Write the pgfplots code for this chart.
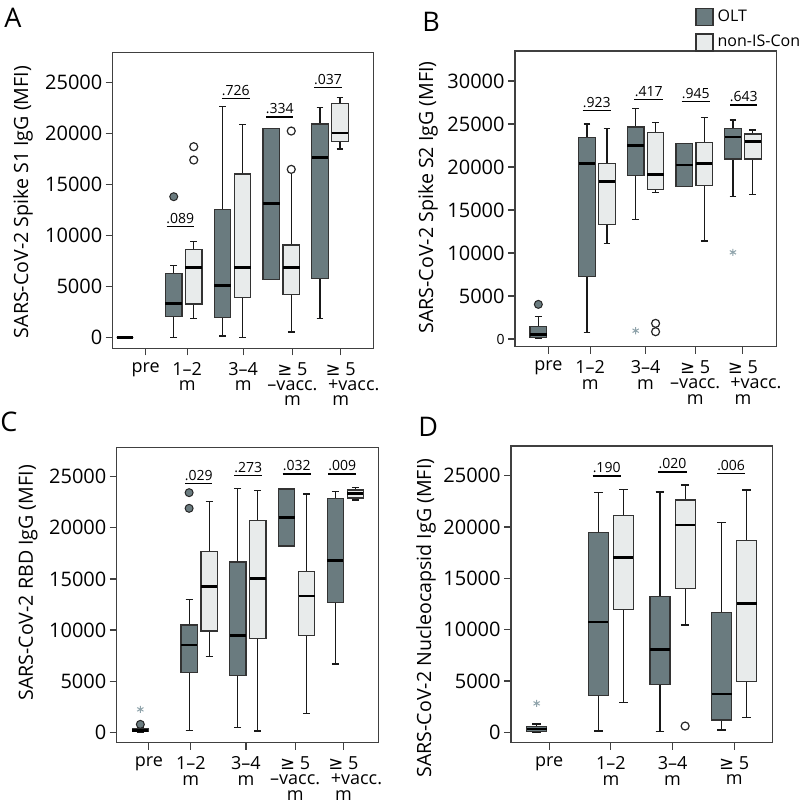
\documentclass[border=0pt]{standalone}
\usepackage{fontspec}
\setmainfont{Open Sans}
\newfontfamily\sym{DejaVu Sans}
\usepackage{pgfplots}
\pgfplotsset{compat=1.18}
\usepgfplotslibrary{statistics}

\definecolor{oltc}{HTML}{6A7B7F}
\definecolor{conc}{HTML}{E8EBEB}
\definecolor{astc}{HTML}{8FA3AB}

% one box: position, lower whisker, q1, median, q3, upper whisker, style
\newcommand\bx[7]{\addplot[#7, boxplot prepared={draw position=#1,
  lower whisker=#2, lower quartile=#3, median=#4,
  upper quartile=#5, upper whisker=#6}] coordinates {};}
\newcommand\pv[4]{\draw[line width=0.7pt] (axis cs:#1,#3) -- (axis cs:#2,#3)
  node[midway, above, inner sep=1.2pt, font=\fontsize{7}{7}\selectfont] {#4};}
\newcommand\vminus{{\sym ≥} 5\\–vacc.\\m}
\newcommand\vplus{{\sym ≥} 5\\\hspace*{13pt}+vacc.\\m}

\pgfplotsset{
  panel/.style={
    scale only axis, anchor=north west,
    axis line style={draw=black!75, line width=0.6pt},
    tick style={draw=black!75, line width=0.6pt},
    major tick length=3.5pt, tick align=outside, tick pos=left,
    minor tick num=0, scaled y ticks=false,
    /pgf/number format/assume math mode=true,
    /pgf/number format/1000 sep={},
    tick label style={font=\fontsize{10}{10}\selectfont},
    yticklabel style={inner sep=1.5pt},
    xticklabel style={align=center, font=\fontsize{9}{7.6}\selectfont},
    ylabel style={font=\fontsize{9.8}{9.8}\selectfont, anchor=center},
    boxplot/draw direction=y,
    boxplot/whisker extend=0.14,
    boxplot/every box/.style={line width=0.6pt},
    boxplot/every whisker/.style={draw=black!90, line width=0.6pt},
    boxplot/every median/.style={draw=black, line width=1.3pt},
  },
  olt/.style={fill=oltc, draw=black!80},
  con/.style={fill=conc, draw=black!80},
  ofill/.style={only marks, mark=*, mark size=2pt, mark options={fill=oltc, draw=black!85, line width=0.5pt}},
  oopen/.style={only marks, mark=*, mark size=2pt, mark options={fill=white, draw=black!85, line width=0.6pt}},
  oast/.style={only marks, mark=asterisk, mark size=1.8pt, mark options={draw=astc, line width=0.5pt}},
}

\begin{document}
\begin{tikzpicture}
\useasboundingbox (0,0) rectangle (400pt,-401pt);

\node[anchor=north west, inner sep=0, font=\fontsize{13.5}{13.5}\selectfont] at (2pt,-4pt) {A};
\node[anchor=north west, inner sep=0, font=\fontsize{13.5}{13.5}\selectfont] at (211pt,-6pt) {B};
\node[anchor=north west, inner sep=0, font=\fontsize{13.5}{13.5}\selectfont] at (0pt,-206pt) {C};
\node[anchor=north west, inner sep=0, font=\fontsize{13.5}{13.5}\selectfont] at (209pt,-208.5pt) {D};

% ---------------- A: Spike S1
\begin{axis}[panel, at={(56.35pt,-26.15pt)}, width=130.3pt, height=148pt,
  xmin=0.543, xmax=5.888, ymin=-1040, ymax=27980,
  boxplot/box extend=0.34,
  ytick={0,5000,...,25000},
  xtick={1.22,2.07,3.22,4.23,5.22},
  xticklabels={pre,{1–2\\m},{3–4\\m},\vminus,\vplus},
  ylabel={SARS-CoV-2 Spike S1 IgG (MFI)},
  ylabel style={at={(axis description cs:-0.344,0.494)}},
]
\bx{0.795}{0}{0}{0}{0}{0}{olt}
\bx{1.795}{0}{2059}{3366}{6307}{7059}{olt}
\bx{2.205}{1895}{3301}{6895}{8660}{9445}{con}
\bx{2.795}{163}{1993}{5098}{12582}{22647}{olt}
\bx{3.205}{0}{3954}{6895}{16046}{20915}{con}
\bx{3.795}{5719}{5719}{13137}{20523}{20523}{olt}
\bx{4.205}{556}{4248}{6895}{9085}{16274}{con}
\bx{4.795}{1895}{5784}{17680}{20948}{22582}{olt}
\bx{5.205}{18497}{19249}{20065}{22941}{23530}{con}
\addplot[ofill] coordinates {(1.795,13824)};
\addplot[oopen] coordinates {(2.205,17418) (2.205,18726) (4.205,16503) (4.205,20262)};
\pv{1.65}{2.21}{10882}{.089}
\pv{2.78}{3.35}{23464}{.726}
\pv{3.69}{4.25}{21634}{.334}
\pv{4.68}{5.24}{24510}{.037}
\end{axis}

% ---------------- B: Spike S2
\begin{axis}[panel, at={(257.5pt,-25.5pt)}, width=130.85pt, height=147.85pt,
  xmin=0.315, xmax=5.695, ymin=-891, ymax=33488,
  boxplot/box extend=0.34,
  ytick={0,5000,...,30000},
  yticklabels={{\fontsize{7}{7}\selectfont 0},5000,10000,15000,20000,25000,30000},
  xtick={1,1.86,3,4.02,5},
  xticklabels={pre,{1–2\\m},{3–4\\m},\vminus,\vplus},
  ylabel={SARS-CoV-2 Spike S2 IgG (MFI)},
  ylabel style={at={(axis description cs:-0.332,0.505)}},
  legend style={at={(0.688,1.155)}, anchor=north west, draw=none, fill=none,
    inner sep=0pt, row sep=1.5pt, font=\fontsize{8}{8}\selectfont,
    /tikz/every even column/.append style={column sep=1.5pt}},
  legend cell align=left,
]
\addlegendimage{legend image code/.code={\draw[fill=oltc,draw=black!80,line width=0.6pt] (0pt,-4.25pt) rectangle (8.5pt,4.25pt);}}
\addlegendentry{OLT}
\addlegendimage{legend image code/.code={\draw[fill=conc,draw=black!80,line width=0.6pt] (0pt,-4.25pt) rectangle (8.5pt,4.25pt);}}
\addlegendentry{non-IS-Con}
\bx{0.795}{100}{200}{543}{1434}{2597}{olt, forget plot}
\bx{1.795}{736}{7248}{20427}{23411}{25000}{olt, forget plot}
\bx{2.205}{11085}{13333}{18295}{20427}{24458}{con, forget plot}
\bx{2.795}{13915}{18992}{22481}{24651}{26783}{olt, forget plot}
\bx{3.205}{17016}{17403}{19147}{23992}{25155}{con, forget plot}
\bx{3.795}{17752}{17752}{20233}{22713}{22713}{olt, forget plot}
\bx{4.205}{11395}{17830}{20388}{22868}{25775}{con, forget plot}
\bx{4.795}{16550}{20930}{23488}{24496}{25465}{olt, forget plot}
\bx{5.205}{16822}{20930}{22946}{23837}{24302}{con, forget plot}
\addplot[ofill, forget plot] coordinates {(0.795,4031)};
\addplot[oopen, forget plot] coordinates {(3.205,853) (3.205,1822)};
\addplot[oast, forget plot] coordinates {(2.795,969) (4.795,10078)};
\pv{1.706}{2.288}{26551}{.923}
\pv{2.768}{3.358}{27830}{.417}
\pv{3.742}{4.324}{27597}{.945}
\pv{4.735}{5.298}{27210}{.643}
\end{axis}

% ---------------- C: RBD
\begin{axis}[panel, at={(58.35pt,-223.65pt)}, width=130.8pt, height=147.7pt,
  xmin=0.31, xmax=5.675, ymin=-1011, ymax=27873,
  boxplot/box extend=0.33,
  ytick={0,5000,...,25000},
  xtick={0.97,1.83,2.96,3.97,4.96},
  xticklabels={pre,{1–2\\m},{3–4\\m},\vminus,\vplus},
  ylabel={SARS-CoV-2 RBD IgG (MFI)},
  ylabel style={at={(axis description cs:-0.339,0.541)}},
]
\bx{0.795}{0}{80}{200}{350}{450}{olt}
\bx{1.795}{163}{5835}{8541}{10497}{13007}{olt}
\bx{2.205}{7400}{9910}{14246}{17669}{22559}{con}
\bx{2.795}{489}{5575}{9454}{16659}{23831}{olt}
\bx{3.205}{130}{9193}{15061}{20701}{23668}{con}
\bx{3.795}{18223}{18223}{20994}{23798}{23798}{olt}
\bx{4.205}{1858}{9454}{13333}{15746}{23309}{con}
\bx{4.795}{6683}{12714}{16822}{22853}{23537}{olt}
\bx{5.205}{22722}{22918}{23342}{23700}{23961}{con}
\addplot[ofill] coordinates {(0.795,782) (1.795,21907) (1.795,23439)};
\addplot[oast] coordinates {(0.795,2249)};
\pv{1.711}{2.271}{24352}{.029}
\pv{2.722}{3.297}{25135}{.273}
\pv{3.714}{4.288}{25265}{.032}
\pv{4.65}{5.217}{25265}{.009}
\end{axis}

% ---------------- D: Nucleocapsid
\begin{axis}[panel, at={(255.5pt,-223pt)}, width=130.65pt, height=148.35pt,
  xmin=0.38, xmax=4.618, ymin=-1006, ymax=27890,
  boxplot/box extend=0.324,
  ytick={0,5000,...,25000},
  xtick={1,2,3,4},
  xticklabels={pre,{1–2\\m},{3–4\\m},{{\sym ≥} 5\\m}},
  ylabel={SARS-CoV-2 Nucleocapsid IgG (MFI)},
  ylabel style={at={(axis description cs:-0.325,0.42)}},
]
\bx{0.796}{0}{65}{325}{552}{812}{olt}
\bx{1.796}{130}{3572}{10748}{19450}{23378}{olt}
\bx{2.204}{2890}{11981}{17047}{21106}{23671}{con}
\bx{2.796}{65}{4676}{8085}{13215}{23411}{olt}
\bx{3.204}{10455}{14027}{20196}{22632}{24093}{con}
\bx{3.796}{227}{1201}{3734}{11689}{20456}{olt}
\bx{4.204}{1461}{4935}{12566}{18703}{23606}{con}
\addplot[oopen] coordinates {(3.204,617)};
\addplot[oast] coordinates {(0.796,2825)};
\pv{1.704}{2.158}{24969}{.190}
\pv{2.77}{3.23}{25359}{.020}
\pv{3.72}{4.18}{25229}{.006}
\end{axis}
\end{tikzpicture}
\end{document}
